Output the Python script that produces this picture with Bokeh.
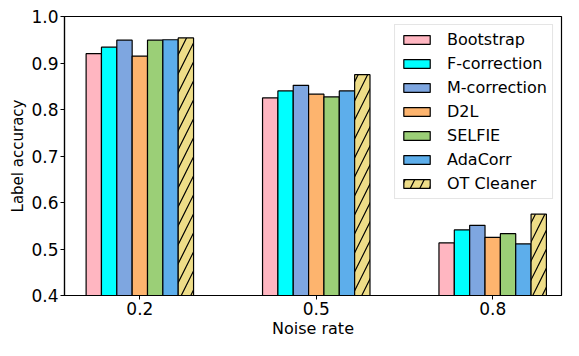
from bokeh.plotting import figure
from bokeh.models import FixedTicker, Legend, LegendItem, Range1d
from bokeh.embed import file_html
from bokeh.resources import INLINE

noise_rates = ["0.2", "0.5", "0.8"]
methods = ["Bootstrap", "F-correction", "M-correction", "D2L", "SELFIE", "AdaCorr", "OT Cleaner"]
bootstrap = [0.920, 0.825, 0.513]
f_correction = [0.934, 0.840, 0.541]
m_correction = [0.949, 0.852, 0.551]
d2l = [0.915, 0.833, 0.525]
selfie = [0.949, 0.827, 0.533]
adacorr = [0.950, 0.840, 0.511]
ot_cleaner = [0.954, 0.875, 0.575]
y_ticks = [0.4, 0.5, 0.6, 0.7, 0.8, 0.9, 1.0]

series = [bootstrap, f_correction, m_correction, d2l, selfie, adacorr, ot_cleaner]
colors = ["#FFB6C1", "#00FFFF", "#7EA6E0", "#FDB46E", "#9BCF77", "#5DAEEB", "#EEDD88"]
hatches = [None, None, None, None, None, None, "/"]

FONT = "DejaVu Sans"
bar_w = 0.087

p = figure(width=563, height=340, output_backend="svg", toolbar_location=None,
           x_range=Range1d(-0.427, 2.39), y_range=Range1d(0.4, 1.0),
           min_border_left=64, min_border_right=2, min_border_top=16, min_border_bottom=0)

items = []
base_x = list(range(len(noise_rates)))
for i, (name, vals, col, h) in enumerate(zip(methods, series, colors, hatches)):
    xs = [b + (i - 3) * bar_w for b in base_x]
    kw = dict(x=xs, top=vals, bottom=0.4, width=bar_w, fill_color=col,
              line_color="black", line_width=1.2)
    if h:
        kw.update(hatch_pattern=h, hatch_color="black", hatch_weight=1.2, hatch_scale=19)
    r = p.vbar(**kw)
    items.append(LegendItem(label=name, renderers=[r]))

legend = Legend(items=items, location="top_right",
                label_text_font=FONT, label_text_font_size="16px",
                label_text_color="black",
                glyph_width=33, glyph_height=11, label_standoff=14,
                label_height=17, spacing=5, padding=5, margin=8,
                border_line_color="#cccccc", border_line_width=1,
                background_fill_alpha=1.0)
p.add_layout(legend, "center")

p.xgrid.visible = False
p.ygrid.visible = False
p.outline_line_color = "black"
p.outline_line_width = 1.2

p.xaxis.ticker = FixedTicker(ticks=base_x)
p.xaxis.major_label_overrides = {i: s for i, s in enumerate(noise_rates)}
p.xaxis.axis_label = "Noise rate"
p.yaxis.ticker = FixedTicker(ticks=y_ticks)
p.yaxis.major_label_overrides = {t: f"{t:.1f}" for t in y_ticks}
p.yaxis.axis_label = "Label accuracy"

for ax in (p.xaxis[0], p.yaxis[0]):
    ax.axis_line_color = "black"
    ax.axis_line_width = 1.2
    ax.major_tick_line_color = "black"
    ax.major_tick_out = 4
    ax.major_tick_in = 0
    ax.minor_tick_line_color = None
    ax.major_label_text_font = FONT
    ax.major_label_text_font_size = "17px"
    ax.major_label_text_color = "black"
    ax.axis_label_text_font = FONT
    ax.axis_label_text_font_style = "normal"
    ax.axis_label_text_color = "black"
    ax.major_label_standoff = 2
    ax.axis_label_standoff = 1
p.xaxis.axis_label_text_font_size = "16px"
p.yaxis.axis_label_text_font_size = "15px"

open("out.html", "w").write(file_html(p, INLINE))
